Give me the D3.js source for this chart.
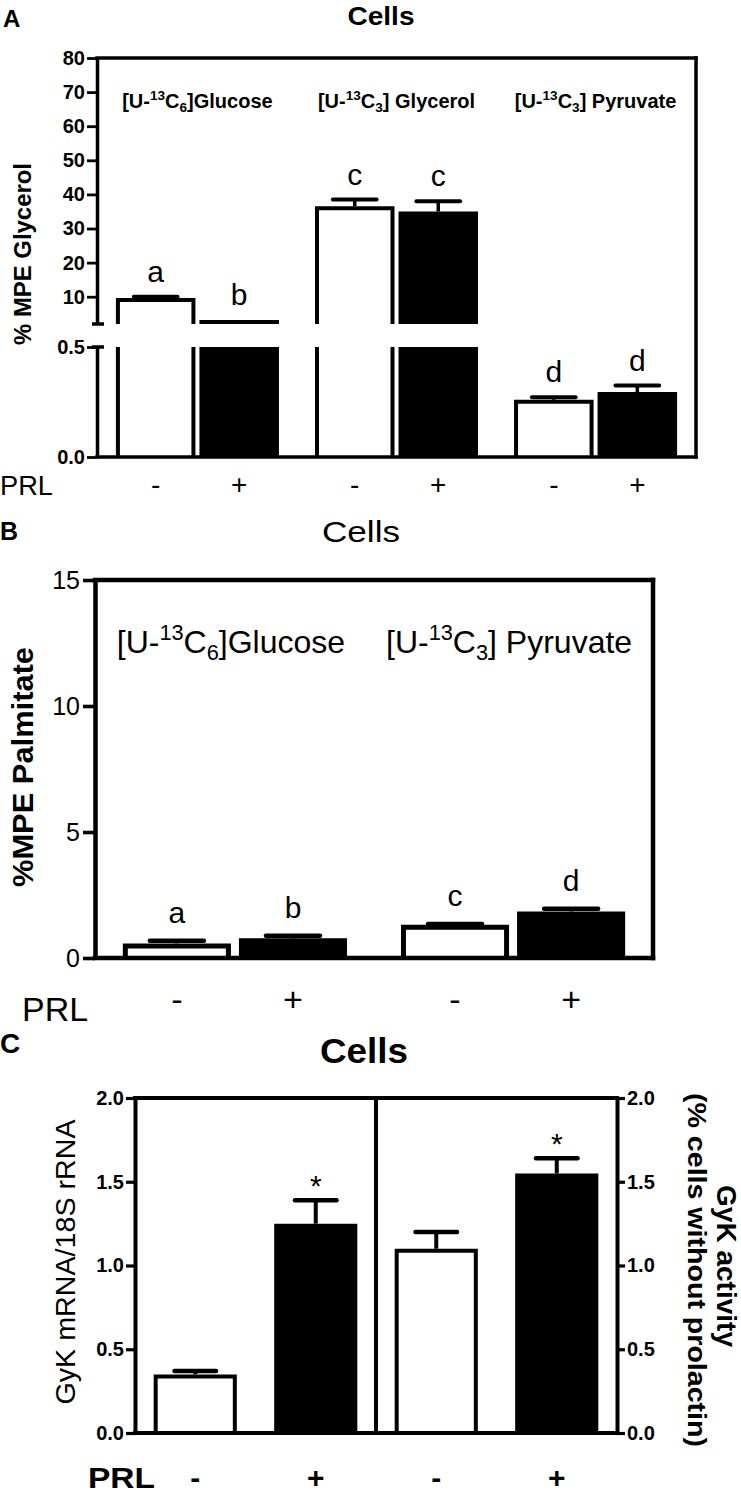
<!DOCTYPE html>
<html><head><meta charset="utf-8">
<script src="https://cdn.jsdelivr.net/npm/d3@7"></script>
<style>
body{margin:0;background:#fff}
svg{display:block}
text{font-family:"Liberation Sans",Arial,Helvetica,sans-serif;fill:#000}
</style>
</head><body>
<svg id="chart" width="741" height="1496"></svg>
<script>
// ---------------- DATA ----------------
const prl = ["-", "+"];

// Panel A: % MPE Glycerol
const substratesA = ["[U-^{13}C_{6}]Glucose", "[U-^{13}C_{3}] Glycerol", "[U-^{13}C_{3}] Pyruvate"];
const glycerolMPE = [[9.6, 3.2], [36.5, 35.0], [0.26, 0.295]];
const glycerolSEM = [[0.4, 0], [2.0, 3.0], [0.012, 0.03]];
const lettersA = [["a", "b"], ["c", "c"], ["d", "d"]];
const ticksAUpper = [10, 20, 30, 40, 50, 60, 70, 80];
const ticksALower = [0.0, 0.5];

// Panel B: % MPE Palmitate
const substratesB = ["[U-^{13}C_{6}]Glucose", "[U-^{13}C_{3}] Pyruvate"];
const palmitateMPE = [[0.58, 0.78], [1.32, 1.85]];
const palmitateSEM = [[0.1, 0.1], [0.03, 0.1]];
const lettersB = [["a", "b"], ["c", "d"]];
const ticksB = [0, 5, 10, 15];

// Panel C: GyK mRNA (left) and GyK activity (right)
const measuresC = ["mRNA", "activity"];
const gykValue = [[0.35, 1.25], [1.10, 1.55]];
const gykSEM = [[0.02, 0.14], [0.10, 0.09]];
const gykSig = [["", "*"], ["", "*"]];
const ticksC = [0, 0.5, 1.0, 1.5, 2.0];

// ---------------- HELPERS ----------------
const svg = d3.select("#chart");

function rich(t, str, size) {
  const parts = str.split(/(\^\{[^}]*\}|_\{[^}]*\})/).filter(s => s);
  let prev = 0;
  parts.forEach(p => {
    let s = p, off = 0, fs = size;
    if (p.startsWith("^{")) { s = p.slice(2, -1); fs = size * 0.68; off = -size * 0.4; }
    else if (p.startsWith("_{")) { s = p.slice(2, -1); fs = size * 0.68; off = size * 0.22; }
    t.append("tspan").attr("dy", off - prev).attr("font-size", fs).text(s);
    prev = off;
  });
}
function txt(g, x, y, s, size, o = {}) {
  const t = g.append("text").attr("x", x).attr("y", y).attr("font-size", size)
    .attr("font-weight", o.bold ? "bold" : "normal")
    .attr("text-anchor", o.anchor || "start");
  if (o.rotate) t.attr("transform", `rotate(${o.rotate},${x},${y})`);
  if (o.len) t.attr("textLength", o.len).attr("lengthAdjust", "spacingAndGlyphs");
  if (o.rich) rich(t, s, size); else t.text(s);
  return t;
}
function line(g, x1, y1, x2, y2, sw, cap = "square") {
  g.append("line").attr("x1", x1).attr("y1", y1).attr("x2", x2).attr("y2", y2)
    .attr("stroke", "#000").attr("stroke-width", sw).attr("stroke-linecap", cap);
}
function drawBar(g, x, w, yTop, yBot, black, sw, openTop) {
  const xl = x + sw / 2, xr = x + w - sw / 2;
  const yt = openTop ? yTop : yTop + sw / 2;
  g.append("rect").attr("x", xl).attr("y", yt).attr("width", xr - xl)
    .attr("height", Math.max(0, yBot - yt)).attr("fill", black ? "#000" : "#fff");
  const d = openTop ? `M${xl},${yBot}V${yTop}M${xr},${yTop}V${yBot}`
                    : `M${xl},${yBot}V${yt}H${xr}V${yBot}`;
  g.append("path").attr("d", d).attr("fill", "none").attr("stroke", "#000")
    .attr("stroke-width", sw).attr("stroke-linejoin", "miter");
}
function errBar(g, cx, yBar, yErr, capW, sw) {
  line(g, cx, yBar, cx, yErr, sw, "butt");
  line(g, cx - capW / 2, yErr, cx + capW / 2, yErr, sw + 0.5, "round");
}
function styleAxis(ax, sw, fs, bold) {
  ax.attr("font-family", null).attr("font-size", null);
  ax.select(".domain").attr("stroke-width", sw);
  ax.selectAll(".tick line").attr("stroke-width", sw * 0.8);
  ax.selectAll(".tick text").attr("font-size", fs).attr("font-weight", bold ? "bold" : "normal")
    .attr("font-family", '"Liberation Sans",Arial,sans-serif');
}

// ---------------- PANEL A ----------------
(function () {
  const L = { x0: 97, x1: 696, top: 58, brkHi: 324, brkLo: 347, bot: 457 };
  const g = svg.append("g");
  const yU = d3.scaleLinear().domain([2, 80]).range([L.brkHi, L.top]);
  const yL = d3.scaleLinear().domain([0, 0.5]).range([L.bot, L.brkLo]);
  const gx = d3.scaleBand().domain(substratesA).range([L.x0, L.x1]).paddingInner(0.181).paddingOuter(0.095);
  const ix = d3.scaleBand().domain(prl).range([0, gx.bandwidth()]).paddingInner(0.048);
  const sw = 4;

  substratesA.forEach((s, i) => {
    prl.forEach((p, j) => {
      const v = glycerolMPE[i][j], e = glycerolSEM[i][j];
      const x = gx(s) + ix(p), w = ix.bandwidth(), cx = x + w / 2, black = j === 1;
      const openLow = v > 0.5;
      drawBar(g, x, w, openLow ? L.brkLo : yL(v), L.bot, black, sw, openLow);
      let yBar = yL(v), yErr;
      if (v > 2) {
        drawBar(g, x, w, yU(v), L.brkHi, black, sw, false);
        yBar = yU(v); yErr = yU(v + e);
      } else yErr = yL(v + e);
      if (e > 0) errBar(g, cx, yBar, yErr, w * 0.55, 3.5);
      txt(g, cx, Math.min(yErr, yBar) - 15, lettersA[i][j], 30, { anchor: "middle" });
      txt(g, cx, 494, p, 28, { anchor: "middle" });
    });
    txt(g, gx(s) + gx.bandwidth() / 2, 108, s, 20, { bold: true, anchor: "middle", rich: true });
  });

  // frame
  line(g, L.x0, L.top, L.x1, L.top, 3.5);
  line(g, L.x1, L.top, L.x1, L.bot, 3.5);
  line(g, L.x0, L.bot, L.x1, L.bot, 3.5);
  const aU = g.append("g").attr("transform", `translate(${L.x0},0)`)
    .call(d3.axisLeft(yU).tickValues(ticksAUpper).tickSize(10).tickSizeOuter(0).tickPadding(2).tickFormat(d3.format("d")));
  styleAxis(aU, 3.5, 20, true);
  const aL = g.append("g").attr("transform", `translate(${L.x0},0)`)
    .call(d3.axisLeft(yL).tickValues(ticksALower).tickSize(10).tickSizeOuter(0).tickPadding(2).tickFormat(d3.format(".1f")));
  styleAxis(aL, 3.5, 20, true);
  line(g, L.x0 - 5, L.brkHi, L.x0 + 7, L.brkHi, 3.5, "butt");
  line(g, L.x0 - 5, L.brkLo, L.x0 + 7, L.brkLo, 3.5, "butt");

  txt(g, 31, 254, "% MPE Glycerol", 23, { bold: true, anchor: "middle", rotate: -90, len: 182 });
  txt(g, 3, 27, "A", 24, { bold: true });
  txt(g, 381, 25, "Cells", 25, { bold: true, anchor: "middle", len: 67 });
  txt(g, 0, 495, "PRL", 27, { len: 53 });
})();

// ---------------- PANEL B ----------------
(function () {
  const L = { x0: 95, x1: 653, top: 580, bot: 958 };
  const g = svg.append("g");
  const y = d3.scaleLinear().domain([0, 15]).range([L.bot, L.top]);
  const gx = d3.scaleBand().domain(substratesB).range([L.x0, L.x1]).paddingInner(0.194).paddingOuter(0.1);
  const ix = d3.scaleBand().domain(prl).range([0, gx.bandwidth()]).paddingInner(0.069);
  const sw = 5;

  substratesB.forEach((s, i) => {
    prl.forEach((p, j) => {
      const v = palmitateMPE[i][j], e = palmitateSEM[i][j];
      const x = gx(s) + ix(p), w = ix.bandwidth(), cx = x + w / 2;
      drawBar(g, x, w, y(v), L.bot, j === 1, sw, false);
      if (e > 0) errBar(g, cx, y(v), y(v + e), w * 0.5, 4);
      txt(g, cx, y(v + e) - 18, lettersB[i][j], 30, { anchor: "middle" });
      txt(g, cx, 1011, p, 34, { anchor: "middle" });
    });
    txt(g, gx(s) + gx.bandwidth() / 2 - 4, 653, s, 32, { anchor: "middle", rich: true });
  });

  line(g, L.x0, L.top, L.x1, L.top, 4.5);
  line(g, L.x1, L.top, L.x1, L.bot, 4.5);
  line(g, L.x0, L.bot, L.x1, L.bot, 4.5);
  const ax = g.append("g").attr("transform", `translate(${L.x0},0)`)
    .call(d3.axisLeft(y).tickValues(ticksB).tickSize(12).tickSizeOuter(0).tickPadding(3));
  styleAxis(ax, 4.5, 25, false);

  txt(g, 33, 767, "%MPE Palmitate", 29, { bold: true, anchor: "middle", rotate: -90, len: 240 });
  txt(g, 0, 540, "B", 25, { bold: true });
  txt(g, 361, 542, "Cells", 29, { anchor: "middle", len: 78 });
  txt(g, 22, 1021, "PRL", 34, { len: 66 });
})();

// ---------------- PANEL C ----------------
(function () {
  const L = { x0: 135, x1: 617, top: 1098, bot: 1433 };
  const g = svg.append("g");
  const y = d3.scaleLinear().domain([0, 2]).range([L.bot, L.top]);
  const keys = d3.cross(measuresC, prl).map(d => d.join("|"));
  const x = d3.scaleBand().domain(keys).range([L.x0, L.x1]).paddingInner(0.31).paddingOuter(0.155);
  const sw = 4;

  measuresC.forEach((m, i) => {
    prl.forEach((p, j) => {
      const k = m + "|" + p, v = gykValue[i][j], e = gykSEM[i][j];
      const bx = x(k), w = x.bandwidth(), cx = bx + w / 2;
      drawBar(g, bx, w, y(v), L.bot, j === 1, sw, false);
      if (e > 0) errBar(g, cx, y(v), y(v + e), w * 0.5, 4);
      if (gykSig[i][j]) txt(g, cx, y(v + e) - 4, gykSig[i][j], 30, { anchor: "middle" });
      txt(g, cx, 1488, p, 30, { bold: true, anchor: "middle" });
    });
  });
  // divider between the two measures
  const xDiv = (x(keys[1]) + x.bandwidth() + x(keys[2])) / 2;
  line(g, xDiv, L.top, xDiv, L.bot, 4);
  line(g, L.x0, L.top, L.x1, L.top, 4);
  line(g, L.x0, L.bot, L.x1, L.bot, 4);
  const axL = g.append("g").attr("transform", `translate(${L.x0},0)`)
    .call(d3.axisLeft(y).tickValues(ticksC).tickSize(9).tickSizeOuter(0).tickPadding(2).tickFormat(d3.format(".1f")));
  styleAxis(axL, 4, 20, true);
  const axR = g.append("g").attr("transform", `translate(${L.x1},0)`)
    .call(d3.axisRight(y).tickValues(ticksC).tickSize(8).tickSizeOuter(0).tickPadding(2).tickFormat(d3.format(".1f")));
  styleAxis(axR, 4, 20, true);

  txt(g, 75, 1262, "GyK mRNA/18S rRNA", 27, { anchor: "middle", rotate: -90, len: 285 });
  txt(g, 717, 1266, "GyK activity", 27, { bold: true, anchor: "middle", rotate: 90, len: 162 });
  txt(g, 688, 1270, "(% cells without prolactin)", 26, { bold: true, anchor: "middle", rotate: 90, len: 354 });
  txt(g, 0, 1053, "C", 28, { bold: true });
  txt(g, 364, 1063, "Cells", 35, { bold: true, anchor: "middle", len: 88 });
  txt(g, 88, 1488, "PRL", 30, { bold: true, len: 67 });
})();
</script>
</body></html>
